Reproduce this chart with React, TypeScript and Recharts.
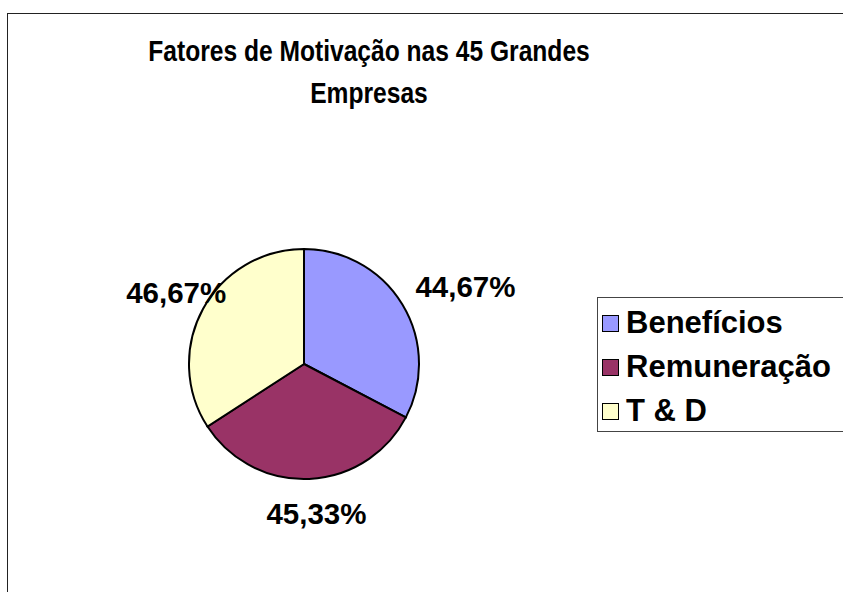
import React from 'react';
import { PieChart, Pie, Cell, Legend } from 'recharts';

const categories = ['Benefícios', 'Remuneração', 'T & D'];
const values = [44.67, 45.33, 46.67];
const valueLabels = ['44,67%', '45,33%', '46,67%'];
const colors = ['#9999FF', '#993366', '#FFFFCC'];

const title = ['Fatores de Motivação nas 45 Grandes', 'Empresas'];

const data = categories.map((name, i) => ({ name, value: values[i], label: valueLabels[i] }));

const RADIAN = Math.PI / 180;
const FONT = '"Liberation Sans", Arial, sans-serif';

// value labels sit outside the pie, pushed a bit further on the right side
const renderLabel = (props: any) => {
  const { cx, cy, midAngle, index } = props;
  const cos = Math.cos(-midAngle * RADIAN);
  const sin = Math.sin(-midAngle * RADIAN);
  const r = 150;
  const x = cx + r * cos + 34 * Math.max(cos, 0) + 4;
  const y = cy + r * sin;
  return (
    <text
      x={x}
      y={y}
      textAnchor="middle"
      dominantBaseline="central"
      fontFamily={FONT}
      fontWeight="bold"
      fontSize={29.5}
      fill="#000"
    >
      {data[index].label}
    </text>
  );
};

const renderLegend = () => (
  <div
    style={{
      border: '1px solid #444',
      background: '#fff',
      width: 260,
      height: 135,
      boxSizing: 'border-box',
      paddingTop: 3,
    }}
  >
    {data.map((d, i) => (
      <div
        key={d.name}
        style={{ display: 'flex', alignItems: 'center', height: 44, paddingLeft: 4 }}
      >
        <span
          style={{
            display: 'inline-block',
            width: 15,
            height: 15,
            background: colors[i],
            border: '1.5px solid #000',
            marginRight: 7,
          }}
        />
        <span style={{ fontFamily: FONT, fontWeight: 'bold', fontSize: 31, color: '#000' }}>
          {d.name}
        </span>
      </div>
    ))}
  </div>
);

export default function App() {
  return (
    <div style={{ position: 'fixed', left: 0, top: 0, width: 843, height: 592, background: '#fff', overflow: 'hidden' }}>
      <div
        style={{
          position: 'absolute',
          left: 7,
          top: 13,
          width: 900,
          height: 700,
          border: '1px solid #222',
        }}
      />
      <div
        style={{
          position: 'absolute',
          left: 0,
          top: 30,
          width: 738,
          textAlign: 'center',
          fontFamily: FONT,
          fontWeight: 'bold',
          fontSize: 24.6,
          lineHeight: '36px',
          color: '#000',
          transform: 'scaleY(1.18)',
          transformOrigin: 'top',
        }}
      >
        {title.map((t) => (
          <div key={t}>{t}</div>
        ))}
      </div>
      <div style={{ position: 'absolute', left: 0, top: 0 }}>
        <PieChart width={843} height={592}>
          <Pie
            data={data}
            dataKey="value"
            nameKey="name"
            cx={299}
            cy={359}
            outerRadius={115}
            startAngle={90}
            endAngle={-270}
            stroke="#000"
            strokeWidth={2}
            label={renderLabel}
            labelLine={false}
            isAnimationActive={false}
          >
            {data.map((d, i) => (
              <Cell key={d.name} fill={colors[i]} />
            ))}
          </Pie>
          <Legend
            content={renderLegend}
            layout="vertical"
            wrapperStyle={{ position: 'absolute', left: 597, top: 297, width: 260 }}
          />
        </PieChart>
      </div>
    </div>
  );
}
